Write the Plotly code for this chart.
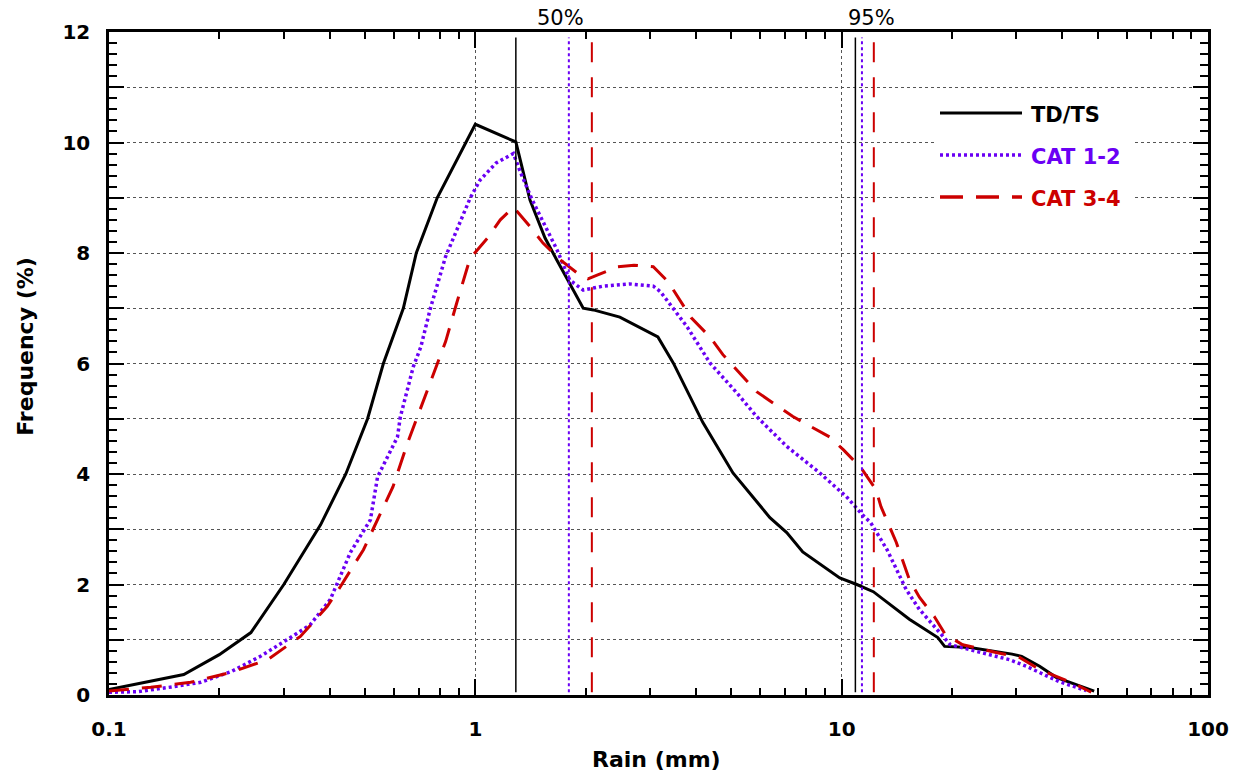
import plotly.graph_objects as go

# ---------------- data ----------------
td_x = [0.1, 0.16, 0.2, 0.244, 0.3, 0.378, 0.443, 0.508, 0.561, 0.636, 0.69, 0.787, 1.0, 1.29,
        1.41, 1.55, 1.67, 1.97, 2.1, 2.48, 3.15, 3.47, 4.18, 5.05, 6.37, 7.08, 7.83, 9.88,
        11.0, 12.2, 15.3, 18.3, 19.1, 22.4, 29.2, 31.0, 34.7, 38.5, 48.9]
td_y = [0.1, 0.37, 0.73, 1.13, 2.0, 3.08, 4.0, 5.0, 6.0, 7.0, 8.0, 9.0, 10.33, 10.01,
        8.96, 8.27, 7.87, 7.0, 6.97, 6.84, 6.48, 6.01, 4.93, 4.02, 3.21, 2.94, 2.59, 2.12,
        2.0, 1.87, 1.37, 1.04, 0.88, 0.86, 0.74, 0.70, 0.52, 0.32, 0.07]

cat12_x = [0.1, 0.12, 0.15, 0.178, 0.215, 0.259, 0.313, 0.354, 0.402, 0.456, 0.517, 0.541,
           0.613, 0.624, 0.677, 0.71, 0.754, 0.829, 0.969, 1.03, 1.14, 1.27, 1.33, 1.43,
           1.67, 1.81, 1.97, 2.23, 2.64, 3.06, 3.2, 3.78, 4.37, 5.17, 5.86, 7.08, 8.71,
           9.88, 10.3, 11.4, 12.0, 13.3, 14.1, 15.0, 16.3, 18.5, 19.8, 23.3, 28.7, 31.9,
           39.3, 46.5]
cat12_y = [0.05, 0.06, 0.15, 0.23, 0.42, 0.70, 1.04, 1.27, 1.73, 2.58, 3.17, 3.95,
           4.67, 5.03, 5.94, 6.3, 7.0, 7.93, 9.0, 9.32, 9.63, 9.8, 9.45, 8.96,
           8.06, 7.51, 7.33, 7.40, 7.44, 7.40, 7.3, 6.67, 6.01, 5.47, 5.04, 4.5, 4.02,
           3.71, 3.59, 3.26, 3.12, 2.63, 2.27, 1.91, 1.55, 1.13, 0.91, 0.79, 0.64, 0.52,
           0.24, 0.08]

cat34_x = [0.1, 0.13, 0.167, 0.215, 0.271, 0.333, 0.394, 0.428, 0.495, 0.541, 0.55, 0.596,
           0.653, 0.70, 0.76, 0.83, 0.89, 0.967, 1.08, 1.17, 1.27, 1.41, 1.53, 1.71, 1.93,
           2.03, 2.15, 2.45, 2.71, 3.06, 3.36, 3.88, 4.37, 4.74, 5.86, 7.36, 9.27, 10.1,
           11.3, 12.4, 12.8, 13.5, 14.1, 14.7, 15.3, 16.3, 17.9, 19.2, 21.4, 26.4, 30.6,
           34.7, 43.6, 48.0]
cat34_y = [0.07, 0.14, 0.23, 0.41, 0.64, 1.06, 1.6, 1.96, 2.63, 3.17, 3.3, 3.77,
           4.56, 5.1, 5.7, 6.4, 7.1, 7.9, 8.27, 8.6, 8.83, 8.48, 8.18, 7.87, 7.6,
           7.53, 7.6, 7.75, 7.78, 7.75, 7.48, 6.83, 6.48, 6.16, 5.49, 5.04, 4.67, 4.44,
           4.11, 3.72, 3.41, 3.05, 2.76, 2.42, 2.09, 1.77, 1.42, 1.09, 0.91, 0.77, 0.68,
           0.46, 0.19, 0.05]

series_names = ["TD/TS", "CAT 1-2", "CAT 3-4"]
median_x = [1.29, 1.80, 2.08]      # 50% percentile rain
p95_x = [10.9, 11.36, 12.24]       # 95% percentile rain
vline_y = [0.05, 11.9]

x_tickvals = [0.1, 1, 10, 100]
x_ticktext = ["0.1", "1", "10", "100"]
x_minor = [m * d for d in (0.1, 1, 10) for m in range(2, 10)]
y_tickvals = list(range(0, 13))
y_ticktext = [str(v) if v % 2 == 0 else "" for v in y_tickvals]

# ---------------- styles ----------------
BLACK = "#000000"
PURPLE = "#6a00f4"
RED = "#cc0000"
colors = [BLACK, PURPLE, RED]
curve_dash = ["solid", "3px,3px", "20px,13px"]
curve_width = [3, 3.5, 3]
vline_dash = ["solid", "3px,3px", "20px,15px"]
vline_width = [1.5, 2, 2]
FONT = "DejaVu Sans"

fig = go.Figure()

xs = [td_x, cat12_x, cat34_x]
ys = [td_y, cat12_y, cat34_y]
for i in range(3):
    fig.add_trace(go.Scatter(x=xs[i], y=ys[i], mode="lines", name=series_names[i],
                             line=dict(color=colors[i], width=curve_width[i], dash=curve_dash[i]),
                             showlegend=False))

for group in (median_x, p95_x):
    for i, xv in enumerate(group):
        fig.add_trace(go.Scatter(x=[xv, xv], y=vline_y, mode="lines",
                                 line=dict(color=colors[i], width=vline_width[i], dash=vline_dash[i]),
                                 showlegend=False, hoverinfo="skip"))

# ---------------- layout geometry (screen px; body margin removed) ----------------
W, H = 1244, 778
L, R, T, B = 109, 1208, 32, 695.5

def px(xp):
    return (xp - L) / (R - L)

def py(yp):
    return (B - yp) / (B - T)

shapes = [dict(type="rect", xref="paper", yref="paper", x0=px(936), x1=px(1135),
               y0=py(228), y1=py(95), fillcolor="white", line=dict(width=0), layer="above")]
rows = [113, 155, 197]
annotations = []
for i in range(3):
    shapes.append(dict(type="line", xref="paper", yref="paper", x0=px(940), x1=px(1022),
                       y0=py(rows[i]), y1=py(rows[i]), layer="above",
                       line=dict(color=colors[i], width=3.5 if i else 3,
                                 dash=["solid", "3px,3px", "23px,13px"][i])))
    annotations.append(dict(xref="paper", yref="paper", x=px(1029), y=py(rows[i] + 2),
                            xanchor="left", yanchor="middle", showarrow=False,
                            text=series_names[i],
                            font=dict(family=FONT, size=21, color=colors[i], weight="bold")))

annotations.append(dict(xref="paper", yref="paper", x=px(560), y=py(18), text="50%",
                        showarrow=False, xanchor="center", yanchor="middle",
                        font=dict(family=FONT, size=21, color="black")))
annotations.append(dict(xref="paper", yref="paper", x=px(871), y=py(18), text="95%",
                        showarrow=False, xanchor="center", yanchor="middle",
                        font=dict(family=FONT, size=21, color="black")))
annotations.append(dict(xref="paper", yref="paper", x=px(26), y=py(347), text="Frequency (%)",
                        textangle=-90, showarrow=False, xanchor="center", yanchor="middle",
                        font=dict(family=FONT, size=22, color="black", weight="bold")))
annotations.append(dict(xref="paper", yref="paper", x=px(656), y=py(760), text="Rain (mm)",
                        showarrow=False, xanchor="center", yanchor="middle",
                        font=dict(family=FONT, size=22, color="black", weight="bold")))

fig.update_layout(
    width=W, height=H,
    margin=dict(l=L, r=W - R, t=T, b=H - B),
    paper_bgcolor="white", plot_bgcolor="white",
    shapes=shapes, annotations=annotations,
    showlegend=False,
    xaxis=dict(type="log", range=[-1, 2], tickvals=x_tickvals, ticktext=x_ticktext,
               automargin=False,
               ticks="inside", ticklen=16, tickwidth=2, tickcolor="black",
               showline=True, linecolor="black", linewidth=2.5, mirror="allticks",
               showgrid=True, gridcolor="#555555", griddash="dot", gridwidth=1,
               tickfont=dict(family=FONT, size=20, color="black", weight="bold"),
               ticklabelstandoff=14,
               minor=dict(tickvals=x_minor, ticks="inside", ticklen=7, tickwidth=2,
                          tickcolor="black", showgrid=False),
               zeroline=False),
    yaxis=dict(range=[0, 12], tickvals=y_tickvals, ticktext=y_ticktext,
               automargin=False,
               ticks="inside", ticklen=15, tickwidth=2, tickcolor="black",
               showline=True, linecolor="black", linewidth=2.5, mirror="allticks",
               showgrid=True, gridcolor="#555555", griddash="dot", gridwidth=1,
               tickfont=dict(family=FONT, size=20, color="black", weight="bold"),
               ticklabelstandoff=12,
               minor=dict(dtick=0.2, ticks="inside", ticklen=8, tickwidth=2,
                          tickcolor="black", showgrid=False),
               zeroline=False),
)

fig.write_html("out.html", config={"displayModeBar": False},
               post_script="document.body.style.margin='0px';")
